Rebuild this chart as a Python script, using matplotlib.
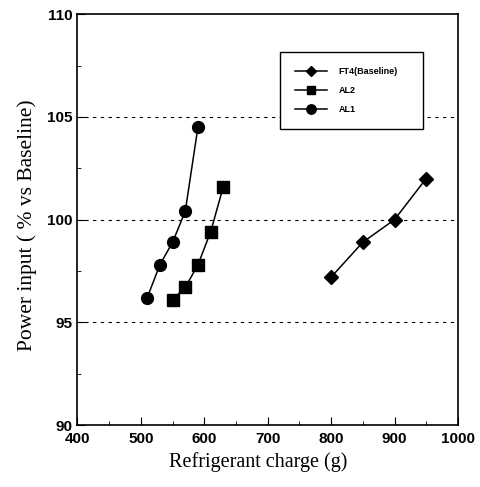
import numpy as np
import matplotlib.pyplot as plt
from matplotlib.ticker import MultipleLocator

# data
ft4_x = [800, 850, 900, 950]
ft4_y = [97.2, 98.9, 100.0, 102.0]
al2_x = [550, 570, 590, 610, 630]
al2_y = [96.1, 96.7, 97.8, 99.4, 101.6]
al1_x = [510, 530, 550, 570, 590]
al1_y = [96.2, 97.8, 98.9, 100.4, 104.5]

fig = plt.figure(figsize=(4.81, 4.87), dpi=100)
ax = fig.add_axes([0.161, 0.127, 0.791, 0.844])

ax.plot(ft4_x, ft4_y, color='black', lw=1.1, marker='D', ms=7, label='FT4(Baseline)')
ax.plot(al2_x, al2_y, color='black', lw=1.1, marker='s', ms=8, label='AL2')
ax.plot(al1_x, al1_y, color='black', lw=1.1, marker='o', ms=8.5, label='AL1')

ax.set_xlim(400, 1000)
ax.set_ylim(90, 110)
ax.xaxis.set_major_locator(MultipleLocator(100))
ax.xaxis.set_minor_locator(MultipleLocator(50))
ax.yaxis.set_major_locator(MultipleLocator(5))
ax.yaxis.set_minor_locator(MultipleLocator(2.5))
ax.tick_params(which='both', direction='in')
ax.tick_params(which='major', length=6, labelsize=11)
ax.tick_params(which='minor', length=3)
ax.tick_params(axis='x', pad=5)
for lab in ax.get_xticklabels() + ax.get_yticklabels():
    lab.set_fontfamily('Liberation Sans')
    lab.set_fontweight('bold')

for yv in [95, 100, 105]:
    ax.axhline(yv, color='black', lw=0.8, ls=(0, (3, 4)), zorder=0)

ax.set_xlabel('Refrigerant charge (g)', fontfamily='Liberation Serif', fontsize=14.5)
ax.set_ylabel('Power input ( % vs Baseline)', fontfamily='Liberation Serif', fontsize=15.5)
ax.xaxis.set_label_coords(0.474, -0.066)
ax.yaxis.set_label_coords(-0.106, 0.487)

leg = ax.legend(loc='lower left', bbox_to_anchor=(0.532, 0.72, 0.376, 0.192), mode='expand',
                fancybox=False, edgecolor='black', framealpha=1,
                prop={'family': 'Liberation Sans', 'size': 6.5, 'weight': 'bold'},
                markerscale=0.8, handlelength=3.5, borderpad=1.7, labelspacing=1.1,
                handletextpad=1.3, borderaxespad=0)
leg.get_frame().set_linewidth(1.0)

for s in ax.spines.values():
    s.set_linewidth(1.2)

fig.savefig('out.png', dpi=100)
